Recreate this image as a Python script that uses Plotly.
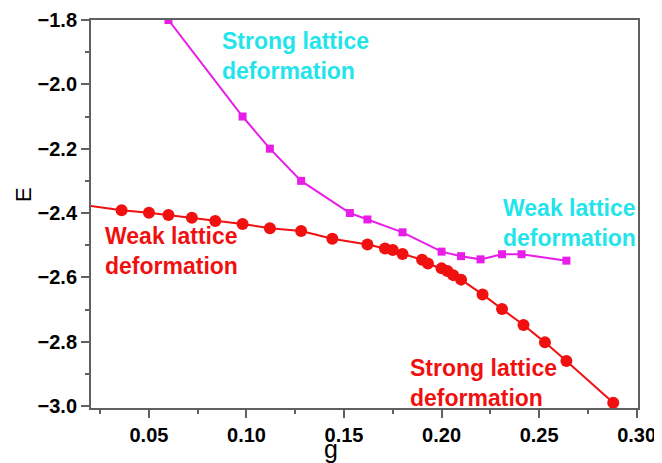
import plotly.graph_objects as go

# Red series (circles)
g_red = [0.010, 0.036, 0.050, 0.060, 0.072, 0.084, 0.098, 0.112, 0.128, 0.144,
         0.162, 0.171, 0.175, 0.180, 0.190, 0.193, 0.200, 0.203, 0.206, 0.210,
         0.221, 0.231, 0.242, 0.253, 0.264, 0.288]
E_red = [-2.370, -2.391, -2.399, -2.406, -2.415, -2.425, -2.434, -2.447, -2.456, -2.480,
         -2.498, -2.510, -2.515, -2.527, -2.545, -2.557, -2.572, -2.580, -2.593, -2.607,
         -2.653, -2.698, -2.748, -2.802, -2.860, -2.990]

# Magenta series (squares)
g_mag = [0.060, 0.098, 0.112, 0.128, 0.153, 0.162, 0.180, 0.200, 0.210, 0.220, 0.231, 0.241, 0.264]
E_mag = [-1.800, -2.100, -2.200, -2.300, -2.400, -2.420, -2.460, -2.520, -2.534, -2.544, -2.528, -2.528, -2.548]

x_ticks = [0.05, 0.10, 0.15, 0.20, 0.25, 0.30]
y_ticks = [-3.0, -2.8, -2.6, -2.4, -2.2, -2.0, -1.8]

RED = "#f01010"
MAG = "#e81ee8"
CYAN = "#22e4ea"
AX = "#606060"
FONT = "Liberation Sans, Arial, sans-serif"

# page body has an 8px default margin; size the figure so the plot area lands where the reference has it
OFF = 8
PL, PT, PR, PB = 91, 20, 638, 408  # plot-area edges in page pixels
W, H = 662 - OFF, 463 - OFF

fig = go.Figure()
fig.add_trace(go.Scatter(x=g_mag, y=E_mag, mode="lines+markers",
                         line=dict(color=MAG, width=2),
                         marker=dict(symbol="square", size=8, color=MAG),
                         showlegend=False))
fig.add_trace(go.Scatter(x=g_red, y=E_red, mode="lines+markers",
                         line=dict(color=RED, width=2),
                         marker=dict(symbol="circle", size=12, color=RED),
                         showlegend=False))

ann_font = dict(family=FONT, size=23, weight="bold")
annotations = [
    dict(x=0.0864, y=-1.912, text="Strong lattice<br>deformation", font=dict(color=CYAN, **ann_font)),
    dict(x=0.2305, y=-2.431, text="Weak lattice<br>deformation", font=dict(color=CYAN, **ann_font)),
    dict(x=0.0264, y=-2.518, text="Weak lattice<br>deformation", font=dict(color=RED, **ann_font)),
    dict(x=0.1828, y=-2.928, text="Strong lattice<br>deformation", font=dict(color=RED, **ann_font)),
]
for a in annotations:
    fig.add_annotation(xref="x", yref="y", xanchor="left", yanchor="middle",
                       align="left", showarrow=False, **a)

pw, ph = PR - PL, PB - PT
fig.add_annotation(xref="paper", yref="paper", x=(331 - PL) / pw, y=-(449 - PB) / ph,
                   text="g", showarrow=False, xanchor="center", yanchor="middle",
                   font=dict(family=FONT, size=25, color="black"))
fig.add_annotation(xref="paper", yref="paper", x=-(PL - 24) / pw, y=(PB - 195) / ph,
                   text="E", showarrow=False, xanchor="center", yanchor="middle", textangle=-90,
                   font=dict(family=FONT, size=22, color="black"))

axis_common = dict(showline=True, linecolor=AX, linewidth=2, mirror=True, automargin=False,
                   showgrid=False, zeroline=False, ticks="outside", tickcolor=AX,
                   tickwidth=2, ticklen=8,
                   tickfont=dict(family=FONT, size=20, color="black", weight="bold"))

fig.update_xaxes(range=[0.0203, 0.3007], tickvals=x_ticks, tickformat=".2f",
                 minor=dict(dtick=0.025, tick0=0, ticks="outside", ticklen=4, tickcolor=AX, tickwidth=2),
                 **axis_common)
fig.update_yaxes(range=[-3.006, -1.8], tickvals=y_ticks, tickformat=".1f",
                 minor=dict(dtick=0.1, tick0=0, ticks="outside", ticklen=4, tickcolor=AX, tickwidth=2),
                 **axis_common)

fig.update_layout(width=W, height=H,
                  margin=dict(l=PL - OFF, r=W + OFF - PR, t=PT - OFF, b=H + OFF - PB),
                  plot_bgcolor="white", paper_bgcolor="white")

fig.write_html("out.html")
